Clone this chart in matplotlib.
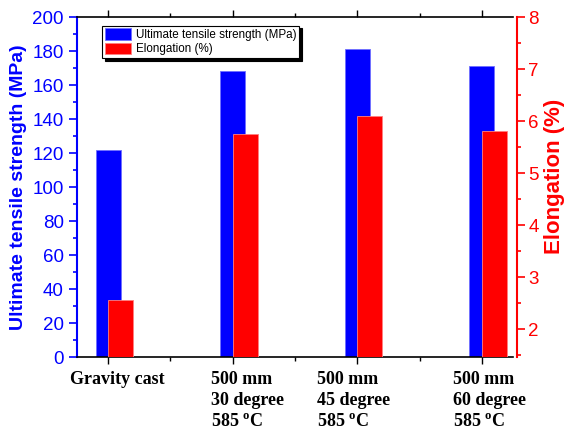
import numpy as np
import matplotlib
matplotlib.use("Agg")
import matplotlib.pyplot as plt
from matplotlib.ticker import MultipleLocator, FixedLocator

plt.rcParams['font.family'] = ['Liberation Sans', 'DejaVu Sans']

# data
categories = ["Gravity cast",
              "500 mm\n30 degree\n585 $\\mathregular{^{o}}$C",
              "500 mm\n45 degree\n585 $\\mathregular{^{o}}$C",
              "500 mm\n60 degree\n585 $\\mathregular{^{o}}$C"]
uts = [122, 168, 181, 171]          # MPa
elongation = [2.56, 5.76, 6.10, 5.82]  # %

x = np.arange(1, len(categories) + 1)
w = 0.2

fig = plt.figure(figsize=(5.64, 4.32), dpi=100)
ax = fig.add_axes([0.1365, 0.1736, 0.9096 - 0.1365, 0.9606 - 0.1736])
ax2 = ax.twinx()

b1 = ax.bar(x, uts, width=w, color="#0000ff", edgecolor="#6f6fff", linewidth=0.6,
            label="Ultimate tensile strength (MPa)")
b2 = ax2.bar(x + w / 2, elongation, width=w, color="#ff0000", edgecolor="#ff7f7f",
             linewidth=0.6, label="Elongation (%)")

ax.set_xlim(0.75, 4.25)
ax.set_ylim(0, 200)
ax2.set_ylim(1.47, 8)

# left axis (blue)
ax.spines['left'].set_color("#0000ff")
ax.spines['left'].set_linewidth(1.5)
ax.spines['right'].set_visible(False)
ax.spines['top'].set_linewidth(1.2)
ax.spines['bottom'].set_linewidth(1.2)
ax.yaxis.set_major_locator(MultipleLocator(20))
ax.yaxis.set_minor_locator(MultipleLocator(10))
ax.tick_params(axis='y', which='both', colors="#0000ff", labelsize=13.5,
               direction='out', width=1.2)
ax.tick_params(axis='y', which='major', length=6)
ax.tick_params(axis='y', which='minor', length=3)
ax.set_ylabel("Ultimate tensile strength (MPa)", color="#0000ff", fontsize=14,
              fontweight='bold', labelpad=4)

# x axis
ax.set_xticks(x)
ax.xaxis.set_minor_locator(FixedLocator([1.5, 2.5, 3.5]))
ax.tick_params(axis='x', which='both', direction='out', top=True, width=1.0,
               colors='black', pad=5)
ax.tick_params(axis='x', which='major', length=5)
ax.tick_params(axis='x', which='minor', length=3)
ax.set_xticklabels(categories, fontfamily='Liberation Serif', fontweight='bold',
                   fontsize=13, va='top', multialignment='left', linespacing=1.3)
offsets = [0.07, 0.12, -0.03, 0.06]
for lab, off in zip(ax.get_xticklabels(), offsets):
    lab.set_transform(lab.get_transform() + matplotlib.transforms.ScaledTranslation(
        off * 124.5 / 100, 0, fig.dpi_scale_trans))

# right axis (red)
for s in ['left', 'top', 'bottom']:
    ax2.spines[s].set_visible(False)
ax2.spines['right'].set_color("#ff0000")
ax2.spines['right'].set_linewidth(1.5)
ax2.spines['right'].set_position(('outward', 3))
ax2.yaxis.set_major_locator(MultipleLocator(1))
ax2.yaxis.set_minor_locator(MultipleLocator(0.5))
ax2.tick_params(axis='y', which='both', colors="#ff0000", labelsize=13.5,
                direction='out', width=1.2, pad=2)
ax2.tick_params(axis='y', which='major', length=6)
ax2.tick_params(axis='y', which='minor', length=3)
ax2.set_ylabel("Elongation (%)", color="#ff0000", fontsize=16, fontweight='bold',
               labelpad=4)
ax2.yaxis.label.set_y(0.53)

leg = ax2.legend([b1, b2], [b1.get_label(), b2.get_label()], loc='upper left',
                 bbox_to_anchor=(0.058, 0.975), fontsize=8.4, frameon=True,
                 fancybox=False, edgecolor='black', framealpha=1,
                 shadow={'color': 'black', 'alpha': 1},
                 handlelength=2.2, handleheight=1.1, handletextpad=0.4,
                 borderpad=0.25, labelspacing=0.15, borderaxespad=0)
leg.get_frame().set_linewidth(0.8)

fig.savefig("out.png", dpi=100)
